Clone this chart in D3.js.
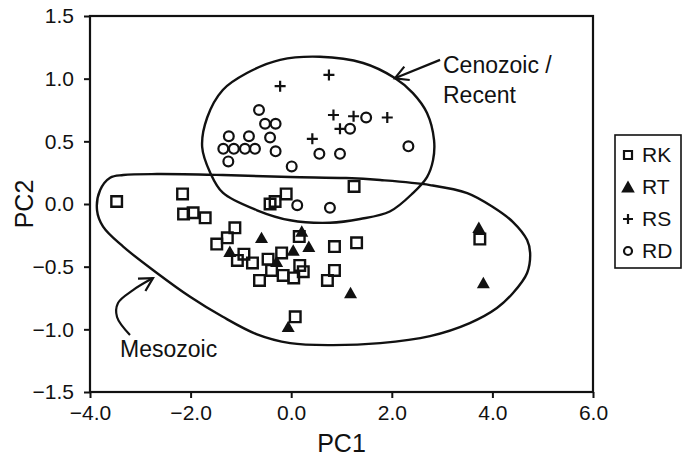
<!DOCTYPE html>
<html>
<head>
<meta charset="utf-8">
<script src="https://cdn.jsdelivr.net/npm/d3@7"></script>
<style>
  body { margin: 0; background: #fff; }
  svg { display: block; font-family: "Liberation Sans", Arial, sans-serif; }
</style>
</head>
<body>
<svg id="chart" width="682" height="460"></svg>
<script>
// PCA scores, one array per group
const rk = [[-3.47,0.02],[-2.16,0.08],[-2.14,-0.08],[-1.95,-0.07],[-1.71,-0.11],[-1.12,-0.19],
  [-1.27,-0.27],[-1.48,-0.32],[-0.94,-0.40],[-1.07,-0.45],[-0.77,-0.47],[-0.46,-0.44],[-0.19,-0.39],
  [0.17,-0.49],[0.24,-0.54],[-0.63,-0.61],[-0.39,-0.53],[-0.16,-0.57],[0.05,-0.59],[0.86,-0.34],
  [1.30,-0.31],[0.86,-0.53],[0.72,-0.61],[0.16,-0.26],[0.08,-0.90],[1.25,0.14],[-0.42,0.0],
  [-0.32,0.02],[-0.10,0.08],[3.75,-0.28]];
const rt = [[-0.59,-0.27],[-1.22,-0.38],[-0.29,-0.46],[0.04,-0.37],[0.21,-0.22],[0.35,-0.34],
  [1.18,-0.71],[-0.06,-0.98],[3.73,-0.19],[3.82,-0.63]];
const rs = [[0.75,1.03],[-0.22,0.94],[0.84,0.71],[1.24,0.70],[0.97,0.60],[0.42,0.52],[1.91,0.69]];
const rd = [[-0.64,0.75],[-0.52,0.64],[-0.31,0.64],[-0.42,0.53],[-0.31,0.42],[-1.24,0.54],
  [-0.84,0.54],[-1.35,0.44],[-1.14,0.44],[-0.92,0.44],[-0.72,0.44],[-1.25,0.34],[0.01,0.30],
  [0.56,0.40],[0.97,0.40],[1.17,0.60],[1.49,0.69],[2.33,0.46],[0.12,-0.01],[0.77,-0.03]];

const legendLabels = ["RK", "RT", "RS", "RD"];
const xTicks = [-4, -2, 0, 2, 4, 6];
const yTicks = [-1.5, -1.0, -0.5, 0.0, 0.5, 1.0, 1.5];

// hand-drawn group outlines (data space)
const cenozoicOutline = [[0.57,1.175],[1.43,1.125],[2.06,1.005],[2.42,0.885],[2.70,0.726],[2.84,0.51],
  [2.82,0.35],[2.70,0.215],[2.42,0.087],[1.96,-0.06],[1.37,-0.12],[0.77,-0.15],[-0.02,-0.13],
  [-0.68,-0.05],[-1.36,0.09],[-1.61,0.25],[-1.77,0.455],[-1.67,0.69],[-1.36,0.91],[-0.88,1.045],[-0.22,1.15]];
const mesozoicOutline = [[-3.34,0.231],[-2.67,0.239],[-1.36,0.231],[-0.02,0.215],[1.09,0.207],[1.77,0.191],
  [2.76,0.151],[3.50,0.087],[4.01,-0.024],[4.41,-0.144],[4.69,-0.288],[4.75,-0.39],[4.69,-0.55],
  [4.41,-0.71],[4.09,-0.83],[3.55,-0.95],[2.76,-1.054],[1.77,-1.11],[0.77,-1.126],[-0.02,-1.11],
  [-0.68,-1.04],[-1.36,-0.90],[-2.01,-0.74],[-2.67,-0.55],[-3.34,-0.34],[-3.74,-0.18],[-3.86,-0.05],
  [-3.80,0.11],[-3.60,0.21]];
const cenozoicArrow = [[2.96,1.15],[2.06,1.003]];
const mesozoicArrow = [[-3.205,-1.046],[-3.463,-0.902],[-3.443,-0.79],[-3.145,-0.687],[-2.748,-0.591]];

const ink = "#111";
const m = { top: 16, right: 89, bottom: 68, left: 90 };
const W = 682, H = 460;

const svg = d3.select("#chart");
const x = d3.scaleLinear().domain([-4, 6]).range([m.left, W - m.right]);
const y = d3.scaleLinear().domain([-1.5, 1.5]).range([H - m.bottom, m.top]);

// axes
const fmt = d3.format(".1f");
const xAxis = svg.append("g").attr("transform", `translate(0,${H - m.bottom})`)
  .call(d3.axisBottom(x).tickValues(xTicks).tickSize(6).tickPadding(7).tickFormat(fmt));
const yAxis = svg.append("g").attr("transform", `translate(${m.left},0)`)
  .call(d3.axisLeft(y).tickValues(yTicks).tickSize(6).tickPadding(10).tickFormat(fmt));
[xAxis, yAxis].forEach(a => {
  a.attr("font-size", 21).attr("font-family", null);
  a.select(".domain").remove();
  a.selectAll("line").attr("stroke", ink).attr("stroke-width", 2);
  a.selectAll("text").attr("fill", ink);
});

svg.append("rect")
  .attr("x", x(-4)).attr("y", y(1.5))
  .attr("width", x(6) - x(-4)).attr("height", y(-1.5) - y(1.5))
  .attr("fill", "none").attr("stroke", ink).attr("stroke-width", 2.2);

svg.append("text").attr("x", (x(-4) + x(6)) / 2).attr("y", 452)
  .attr("text-anchor", "middle").attr("fill", ink).attr("font-size", 25).text("PC1");
svg.append("text").attr("transform", `translate(33,${(y(1.5) + y(-1.5)) / 2}) rotate(-90)`)
  .attr("text-anchor", "middle").attr("fill", ink).attr("font-size", 25).text("PC2");

// outlines
const outline = d3.line().x(d => x(d[0])).y(d => y(d[1])).curve(d3.curveCatmullRomClosed);
[cenozoicOutline, mesozoicOutline].forEach(o => {
  svg.append("path").attr("d", outline(o))
    .attr("fill", "none").attr("stroke", ink).attr("stroke-width", 2.4);
});

// arrows with open heads
function arrow(pts) {
  const line = d3.line().x(d => x(d[0])).y(d => y(d[1])).curve(d3.curveCatmullRom);
  svg.append("path").attr("d", line(pts))
    .attr("fill", "none").attr("stroke", ink).attr("stroke-width", 2.2);
  const a = pts[pts.length - 2], b = pts[pts.length - 1];
  const tx = x(b[0]), ty = y(b[1]);
  const ang = Math.atan2(y(a[1]) - ty, x(a[0]) - tx);
  const len = 15, spread = 0.5;
  const head = [ang - spread, ang + spread].map(t => [tx + len * Math.cos(t), ty + len * Math.sin(t)]);
  svg.append("path")
    .attr("d", `M${head[0][0]},${head[0][1]}L${tx},${ty}L${head[1][0]},${head[1][1]}`)
    .attr("fill", "none").attr("stroke", ink).attr("stroke-width", 2.2);
}
arrow(cenozoicArrow);
arrow(mesozoicArrow);

const note = svg.append("g").attr("fill", ink).attr("font-size", 23);
note.append("text").attr("x", 443).attr("y", 73).text("Cenozoic /");
note.append("text").attr("x", 443).attr("y", 103).text("Recent");
note.append("text").attr("x", 120).attr("y", 357).text("Mesozoic");

// markers
const sq = (s) => `M${-s},${-s}H${s}V${s}H${-s}Z`;
const tri = (s) => `M0,${-s}L${s * 1.05},${s * 0.85}L${-s * 1.05},${s * 0.85}Z`;
const plus = (s) => `M${-s},0H${s}M0,${-s}V${s}`;

const pts = svg.append("g");
pts.selectAll(".rk").data(rk).join("path").attr("class", "rk")
  .attr("transform", d => `translate(${x(d[0])},${y(d[1])})`)
  .attr("d", sq(5.3)).attr("fill", "none").attr("stroke", ink).attr("stroke-width", 2.4);
pts.selectAll(".rd").data(rd).join("circle").attr("class", "rd")
  .attr("cx", d => x(d[0])).attr("cy", d => y(d[1])).attr("r", 4.9)
  .attr("fill", "none").attr("stroke", ink).attr("stroke-width", 2.2);
pts.selectAll(".rs").data(rs).join("path").attr("class", "rs")
  .attr("transform", d => `translate(${x(d[0])},${y(d[1])})`)
  .attr("d", plus(5.5)).attr("fill", "none").attr("stroke", ink).attr("stroke-width", 2.2);
pts.selectAll(".rt").data(rt).join("path").attr("class", "rt")
  .attr("transform", d => `translate(${x(d[0])},${y(d[1])})`)
  .attr("d", tri(6.2)).attr("fill", ink);

// legend
const lg = svg.append("g");
lg.append("rect").attr("x", 615).attr("y", 135).attr("width", 66).attr("height", 133)
  .attr("fill", "#fff").attr("stroke", ink).attr("stroke-width", 1.6);
const legendY = d3.scalePoint().domain(legendLabels).range([155, 251]);
const legendMark = {
  RK: g => g.append("path").attr("d", sq(4)).attr("fill", "none").attr("stroke", ink).attr("stroke-width", 2.2),
  RT: g => g.append("path").attr("d", tri(6.5)).attr("fill", ink),
  RS: g => g.append("path").attr("d", plus(5)).attr("fill", "none").attr("stroke", ink).attr("stroke-width", 2.2),
  RD: g => g.append("circle").attr("r", 4).attr("fill", "none").attr("stroke", ink).attr("stroke-width", 2.2)
};
legendLabels.forEach(k => {
  const g = lg.append("g").attr("transform", `translate(628,${legendY(k)})`);
  legendMark[k](g);
  g.append("text").attr("x", 14).attr("y", 7).attr("fill", ink).attr("font-size", 21).text(k);
});
</script>
</body>
</html>
